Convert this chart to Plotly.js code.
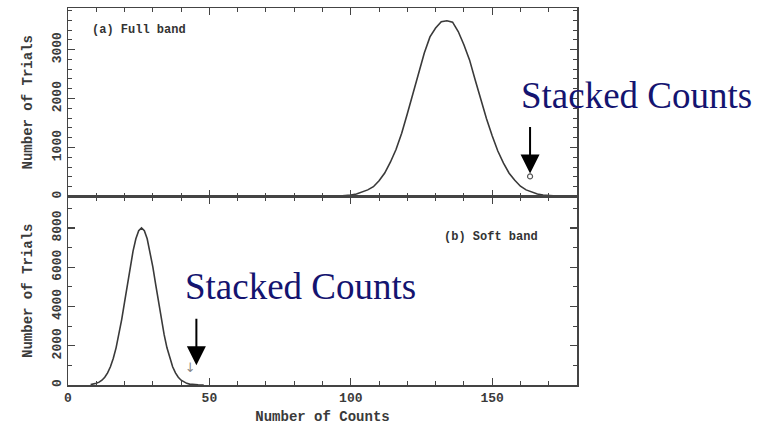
<!DOCTYPE html>
<html>
<head>
<meta charset="utf-8">
<script src="https://cdn.plot.ly/plotly-3.0.1.min.js"></script>
<style>html,body{margin:0;padding:0;background:#fff;}#chart{width:769px;height:426px;}</style>
</head>
<body>
<div id="chart"></div>
<script>
// Full band distribution (panel a)
var fullX = [96,98,100,102,104,106,108,110,112,114,116,118,120,122,124,126,128,130,132,134,136,138,140,142,144,146,148,150,152,154,156,158,160,162,164,166,168,170,172,174];
var fullY = [8,15,28,50,85,135,200,320,480,700,960,1290,1690,2120,2550,2930,3260,3440,3570,3590,3560,3370,3100,2790,2380,1970,1590,1240,930,680,475,330,210,135,85,50,28,15,8,4];
// Soft band distribution (panel b)
var softX = [8,9,10,11,12,13,14,15,16,17,18,19,20,21,22,23,24,25,26,27,28,29,30,31,32,33,34,35,36,37,38,39,40,41,42,43,44,45,46,47,48];
var softY = [20,45,84,146,244,395,617,928,1349,1892,2561,3345,4215,5127,6016,6816,7450,7859,8000,7859,7450,6816,6016,5127,4215,3345,2561,1892,1349,928,617,395,244,146,84,46,24,12,5,2,1];
// Stacked (observed) counts markers
var stackFullX = [163.4], stackFullY = [410];
var stackSoftX = [43.2], stackSoftY = [820];
// Tick labels
var xTicks = [0,50,100,150];
var fullYTicks = [0,1000,2000,3000];
var softYTicks = [0,2000,4000,6000,8000];
var labelText = "Stacked Counts";

var tickFont = {family: "Liberation Mono", size: 13, color: "#3a3a3a", weight: "bold"};
var titleFont = {family: "Liberation Mono", size: 14, color: "#3a3a3a", weight: "bold"};
var lineCol = "#444";

var traces = [
  {x: fullX, y: fullY, xaxis: "x", yaxis: "y", mode: "lines", line: {color: "#3a3a3a", width: 1.6}, hoverinfo: "skip"},
  {x: softX, y: softY, xaxis: "x2", yaxis: "y2", mode: "lines", line: {color: "#3a3a3a", width: 1.6}, hoverinfo: "skip"},
  {x: stackFullX, y: stackFullY, xaxis: "x", yaxis: "y", mode: "markers", marker: {symbol: "circle-open", size: 5, color: "#555", line: {width: 1.2, color: "#555"}}},
  {x: stackSoftX, y: stackSoftY, xaxis: "x2", yaxis: "y2", mode: "text", text: ["↓"], textfont: {family: "DejaVu Sans", size: 13, color: "#888888"}, textposition: "middle center"}
];

function xAxis(showLabels, anchor) {
  return {
    range: [0, 180], anchor: anchor, showgrid: false, zeroline: false,
    showline: true, linecolor: lineCol, linewidth: 1.5, mirror: "allticks",
    ticks: "inside", ticklen: 7, tickwidth: 1.2, tickcolor: lineCol,
    tickvals: xTicks, ticktext: xTicks.map(String), showticklabels: showLabels,
    tickfont: tickFont,
    minor: {dtick: 10, ticks: "inside", ticklen: 4, tickcolor: lineCol, tickwidth: 1}
  };
}

var layout = {
  width: 769, height: 426,
  margin: {l: 68, r: 192, t: 8, b: 41},
  paper_bgcolor: "#fff", plot_bgcolor: "#fff",
  showlegend: false,
  xaxis: xAxis(false, "y"),
  xaxis2: Object.assign(xAxis(true, "y2"), {title: {text: "Number of Counts", font: titleFont, standoff: 6}}),
  yaxis: {
    domain: [0.5, 1], range: [0, 3850], anchor: "x", showgrid: false, zeroline: false,
    showline: true, linecolor: lineCol, linewidth: 1.5, mirror: "allticks",
    ticks: "inside", ticklen: 7, tickwidth: 1.2, tickcolor: lineCol,
    tickvals: fullYTicks, ticktext: fullYTicks.map(String), tickangle: -90, tickfont: tickFont,
    minor: {dtick: 200, ticks: "inside", ticklen: 4, tickcolor: lineCol, tickwidth: 1},
    title: {text: "Number of Trials", font: titleFont, standoff: 14}
  },
  yaxis2: {
    domain: [0, 0.5], range: [0, 9600], anchor: "x2", showgrid: false, zeroline: false,
    showline: true, linecolor: lineCol, linewidth: 1.5, mirror: "allticks",
    ticks: "inside", ticklen: 7, tickwidth: 1.2, tickcolor: lineCol,
    tickvals: softYTicks, ticktext: softYTicks.map(String), tickangle: -90, tickfont: tickFont,
    minor: {dtick: 1000, ticks: "inside", ticklen: 4, tickcolor: lineCol, tickwidth: 1},
    title: {text: "Number of Trials", font: titleFont, standoff: 14}
  },
  annotations: [
    {xref: "paper", yref: "paper", x: 0.043, y: 0.9416, xanchor: "left", yanchor: "middle", showarrow: false,
     text: "<b>(a) Full band</b>", font: {family: "Liberation Mono", size: 12, color: "#333"}},
    {xref: "paper", yref: "paper", x: 0.735, y: 0.3926, xanchor: "left", yanchor: "middle", showarrow: false,
     text: "<b>(b) Soft band</b>", font: {family: "Liberation Mono", size: 12, color: "#333"}},
    {xref: "paper", yref: "paper", x: 0.887, y: 0.767, xanchor: "left", yanchor: "middle", showarrow: false,
     text: labelText, font: {family: "Liberation Serif", size: 37, color: "#141470"}},
    {xref: "paper", yref: "paper", x: 0.225, y: 0.262, xanchor: "left", yanchor: "middle", showarrow: false,
     text: labelText, font: {family: "Liberation Serif", size: 37, color: "#141470"}},
    {xref: "x", yref: "y", x: 163.4, y: 470, ax: 0, ay: -48, showarrow: true, text: "",
     arrowhead: 2, arrowsize: 1.9, arrowwidth: 2, arrowcolor: "#000"},
    {xref: "x2", yref: "y2", x: 45.4, y: 1000, ax: 0, ay: -48, showarrow: true, text: "",
     arrowhead: 2, arrowsize: 1.9, arrowwidth: 2, arrowcolor: "#000"}
  ]
};

Plotly.newPlot("chart", traces, layout, {staticPlot: true, displayModeBar: false});
</script>
</body>
</html>
